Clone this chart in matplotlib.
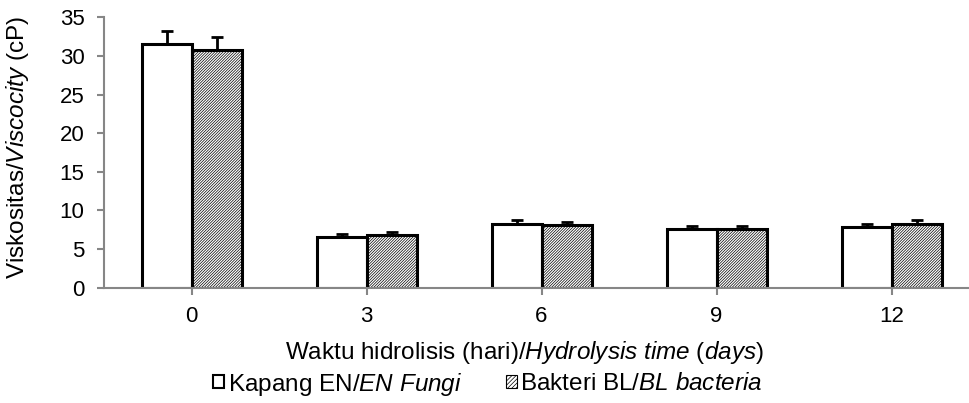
import numpy as np
import matplotlib.pyplot as plt
from matplotlib.patches import Patch

plt.rcParams['font.family'] = ['Liberation Sans', 'DejaVu Sans']
plt.rcParams['mathtext.fontset'] = 'custom'
plt.rcParams['mathtext.rm'] = 'Liberation Sans'
plt.rcParams['mathtext.it'] = 'Liberation Sans:italic'
plt.rcParams['hatch.linewidth'] = 0.5
plt.rcParams['hatch.color'] = '#444444'

# Data
days = ['0', '3', '6', '9', '12']
fungi = [31.6, 6.6, 8.3, 7.6, 7.9]
fungi_err = [1.6, 0.3, 0.45, 0.45, 0.35]
bacteria = [30.8, 6.85, 8.15, 7.6, 8.3]
bacteria_err = [1.6, 0.3, 0.4, 0.45, 0.45]

grey = '#868686'
hatch = '/' * 12
fig = plt.figure(figsize=(9.69, 4.03), dpi=100)
ax = fig.add_axes([104 / 969, 1 - 287.7 / 403, 875 / 969, 270.4 / 403])

x = np.arange(len(days))
w = 50 / 175
ax.bar(x - w / 2, fungi, w, color='white', edgecolor='black', linewidth=2.2,
       yerr=[np.zeros(len(days)), fungi_err], capsize=4.3,
       error_kw=dict(elinewidth=2, capthick=2, ecolor='black'))
ax.bar(x + w / 2, bacteria, w, color='white', edgecolor='black', linewidth=2.2,
       hatch=hatch, yerr=[np.zeros(len(days)), bacteria_err], capsize=4.3,
       error_kw=dict(elinewidth=2, capthick=2, ecolor='black'))

ax.set_xlim(-0.5, len(days) - 0.5)
ax.set_ylim(0, 35)
ax.set_yticks(range(0, 36, 5))
ax.set_xticks(x)
ax.set_xticklabels(days)
ax.tick_params(labelsize=16, colors=grey, labelcolor='black', length=5, width=1.5)
ax.tick_params(axis='x', pad=8)
ax.tick_params(axis='y', pad=9)
for s in ['top', 'right']:
    ax.spines[s].set_visible(False)
for s in ['left', 'bottom']:
    ax.spines[s].set_color(grey)
    ax.spines[s].set_linewidth(1.5)

fig.text(18 / 969, 1 - 147.5 / 403, r'Viskositas/$\mathit{Viscocity}$ (cP)',
         rotation=90, ha='center', va='center', fontsize=17.5)
fig.text(524 / 969, 1 - 353 / 403,
         r'Waktu hidrolisis (hari)/$\mathit{Hydrolysis\ time}$ ($\mathit{days}$)',
         ha='center', va='center', fontsize=17.5)

handles = [Patch(facecolor='white', edgecolor='black', linewidth=1.5),
           Patch(facecolor='white', edgecolor='black', linewidth=0.8, hatch='/' * 8)]
labels = [r'Kapang EN/$\mathit{EN\ Fungi}$', r'Bakteri BL/$\mathit{BL\ bacteria}$']
fig.legend(handles, labels, loc='center left', bbox_to_anchor=(213 / 969, 1 - 384 / 403),
           ncol=2, frameon=False, fontsize=17.5, handlelength=0.45, handleheight=0.45,
           handletextpad=0.15, columnspacing=1.8, borderpad=0, borderaxespad=0)

fig.savefig('out.png', dpi=100)
